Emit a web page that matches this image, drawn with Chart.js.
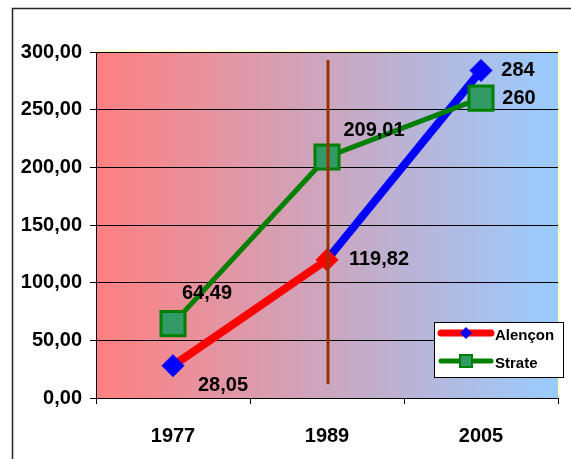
<!DOCTYPE html>
<html>
<head>
<meta charset="utf-8">
<script src="https://cdn.jsdelivr.net/npm/chart.js@4.4.1/dist/chart.umd.min.js"></script>
<style>
  html, body { margin: 0; padding: 0; background: #ffffff; }
  #wrap { width: 571px; height: 459px; position: relative; }
</style>
</head>
<body>
<div id="wrap"><canvas id="c" width="571" height="459"></canvas></div>
<script>
// Years on the horizontal axis
const years = ['1977', '1989', '2005'];
// Population series
const alenconValues = [28.05, 119.82, 284];
const strateValues = [64.49, 209.01, 260];
// Vertical axis ticks
const yTicks = [0, 50, 100, 150, 200, 250, 300];

const FONT = '"Liberation Sans", Arial, sans-serif';

function fmt(v, decimals) {
  return v.toFixed(decimals).replace('.', ',');
}
function labelText(v) {
  return Number.isInteger(v) ? String(v) : fmt(v, 2);
}

// Label offsets (pixels from the point) for each series
const alenconLabelOffsets = [[50, 20], [52, 0], [37, 0]];
const strateLabelOffsets = [[34, -30], [47, -26], [38, 0]];

const decorPlugin = {
  id: 'decor',
  beforeDraw(chart) {
    const { ctx, chartArea: a } = chart;
    ctx.save();
    const g = ctx.createLinearGradient(a.left, 0, a.right, 0);
    g.addColorStop(0, '#FF8080');
    g.addColorStop(1, '#99CCFF');
    ctx.fillStyle = g;
    ctx.fillRect(a.left, a.top, a.right - a.left, a.bottom - a.top);
    // pale frame around the plot area
    ctx.strokeStyle = '#FFFFCC';
    ctx.lineWidth = 2;
    ctx.beginPath();
    ctx.moveTo(a.left, a.top - 1);
    ctx.lineTo(a.right + 1, a.top - 1);
    ctx.lineTo(a.right + 1, a.bottom);
    ctx.stroke();
    // outer frame
    ctx.strokeStyle = '#222222';
    ctx.lineWidth = 1.5;
    ctx.beginPath();
    ctx.moveTo(12.5, 459);
    ctx.lineTo(12.5, 8.5);
    ctx.lineTo(571, 8.5);
    ctx.stroke();
    ctx.restore();
  },
  afterDatasetsDraw(chart) {
    const { ctx } = chart;
    const xs = chart.scales.x, ys = chart.scales.y;
    ctx.save();
    // marker line at 1989
    const mx = xs.getPixelForValue(1) + 1;
    ctx.strokeStyle = '#993300';
    ctx.lineWidth = 3;
    ctx.beginPath();
    ctx.moveTo(mx, ys.getPixelForValue(293));
    ctx.lineTo(mx, ys.getPixelForValue(12));
    ctx.stroke();

    // value labels
    ctx.fillStyle = '#000';
    ctx.font = 'bold 20px ' + FONT;
    ctx.textAlign = 'center';
    ctx.textBaseline = 'middle';
    const draw = (vals, offs) => {
      vals.forEach((v, i) => {
        const px = xs.getPixelForValue(i), py = ys.getPixelForValue(v);
        ctx.fillText(labelText(v), px + offs[i][0], py + offs[i][1]);
      });
    };
    draw(alenconValues, alenconLabelOffsets);
    draw(strateValues, strateLabelOffsets);

    // legend box
    const lx = 434.5, ly = 322.5, lw = 129, lh = 55;
    ctx.fillStyle = '#fff';
    ctx.fillRect(lx, ly, lw, lh);
    ctx.strokeStyle = '#000';
    ctx.lineWidth = 1;
    ctx.strokeRect(lx, ly, lw, lh);

    ctx.lineCap = 'round';
    // Alençon sample
    ctx.strokeStyle = '#FF0000';
    ctx.lineWidth = 7;
    ctx.beginPath(); ctx.moveTo(441, 333); ctx.lineTo(491, 333); ctx.stroke();
    ctx.fillStyle = '#0000FF';
    ctx.beginPath();
    ctx.moveTo(466, 327); ctx.lineTo(472, 333); ctx.lineTo(466, 339); ctx.lineTo(460, 333);
    ctx.closePath(); ctx.fill();
    // Strate sample
    ctx.strokeStyle = '#008000';
    ctx.lineWidth = 5;
    ctx.beginPath(); ctx.moveTo(441, 361); ctx.lineTo(491, 361); ctx.stroke();
    ctx.fillStyle = '#339966';
    ctx.fillRect(460, 355, 12, 12);
    ctx.strokeStyle = '#008000';
    ctx.lineWidth = 2;
    ctx.strokeRect(460, 355, 12, 12);

    ctx.fillStyle = '#000';
    ctx.font = 'bold 15px ' + FONT;
    ctx.textAlign = 'left';
    ctx.fillText('Alençon', 495, 336);
    ctx.fillText('Strate', 495, 364);
    ctx.restore();
  }
};

new Chart(document.getElementById('c'), {
  type: 'line',
  data: {
    labels: years,
    datasets: [
      {
        label: 'Alençon',
        data: alenconValues,
        order: 1,
        borderColor: '#FF0000',
        borderWidth: 8,
        segment: {
          borderColor: c => (c.p0DataIndex === 1 ? '#0000FF' : '#FF0000')
        },
        pointStyle: 'rectRot',
        pointRadius: 11,
        pointBackgroundColor: ['#0000FF', '#FF0000', '#0000FF'],
        pointBorderColor: ['#0000FF', '#FF0000', '#0000FF'],
        pointBorderWidth: 1,
        tension: 0,
        clip: false
      },
      {
        label: 'Strate',
        data: strateValues,
        order: 0,
        borderColor: '#008000',
        borderWidth: 5,
        pointStyle: 'rect',
        pointRadius: 17,
        pointBackgroundColor: '#339966',
        pointBorderColor: '#008000',
        pointBorderWidth: 3,
        tension: 0,
        clip: false
      }
    ]
  },
  options: {
    responsive: false,
    animation: false,
    events: [],
    layout: { autoPadding: false, padding: { top: 52, right: 13, left: 0, bottom: 0 } },
    plugins: { legend: { display: false }, tooltip: { enabled: false } },
    scales: {
      x: {
        offset: true,
        grid: { display: true, offset: true, drawOnChartArea: false, drawTicks: true, tickLength: 6, color: '#000' },
        border: { display: true, color: '#000', width: 1 },
        ticks: { color: '#000', font: { family: FONT, size: 20, weight: 'bold' }, padding: 20 },
        afterFit(s) { s.height = 61; }
      },
      y: {
        min: 0,
        max: 300,
        afterBuildTicks(s) { s.ticks = yTicks.map(v => ({ value: v })); },
        grid: { color: '#000', lineWidth: 1, tickLength: 6, drawTicks: true },
        border: { display: true, color: '#000', width: 1 },
        ticks: {
          color: '#000',
          font: { family: FONT, size: 20, weight: 'bold' },
          padding: 8,
          callback: v => fmt(v, 2)
        },
        afterFit(s) { s.width = 96; }
      }
    }
  },
  plugins: [decorPlugin]
});
</script>
</body>
</html>
